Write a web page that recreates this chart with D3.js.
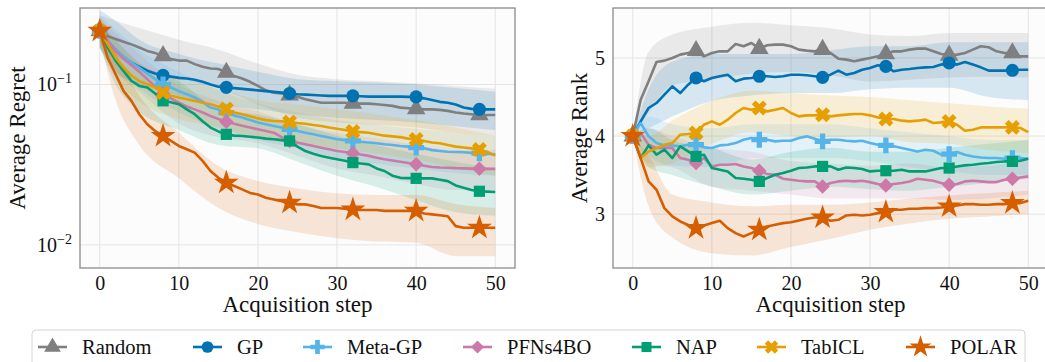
<!DOCTYPE html>
<html>
<head>
<meta charset="utf-8">
<script src="https://cdn.jsdelivr.net/npm/d3@7"></script>
<style>
  body { margin: 0; background: #fff; }
  svg, svg text { font-family: 'Liberation Serif', Tinos, 'Times New Roman', Times, 'DejaVu Serif', serif; fill: #111; }
</style>
</head>
<body>
<svg id="chart" width="1045" height="362"></svg>
<script>
// Methods and styling keys
const methods = ['Random', 'GP', 'Meta-GP', 'PFNs4BO', 'NAP', 'TabICL', 'POLAR'];
const colors = ['#7f7f7f', '#0072b2', '#56b4e9', '#cc79a7', '#009e73', '#e69f00', '#d55e00'];
const markers = ['triangle', 'circle', 'plus', 'diamond', 'square', 'cross', 'star'];
const markerSteps = [0, 8, 16, 24, 32, 40, 48];
const bandSteps = [0, 2, 5, 10, 15, 20, 25, 30, 35, 40, 45, 50];
const xTicks = [0, 10, 20, 30, 40, 50];
const regretTicks = [0.01, 0.1];
const rankTicks = [3, 4, 5];

// Average regret (steps 0..50)
const regretRandom = [
  .216, .200, .192, .185, .178, .170, .162, .157, .151, .144,
  .141, .141, .134, .129, .126, .125, .119, .113, .109, .104,
  .098, .092, .089, .088, .086, .084, .081, .079, .077, .077,
  .077, .077, .0762, .076, .076, .0753, .0746, .0736, .0718, .0711,
  .0705, .070, .070, .0695, .0685, .0669, .0659, .0653, .0646, .0646, .0646];
const regretGP = [
  .216, .185, .163, .148, .137, .129, .122, .117, .114, .112,
  .110, .109, .107, .104, .100, .097, .096, .095, .094, .093,
  .092, .091, .090, .089, .088, .087, .0865, .086, .0855, .085,
  .085, .085, .085, .0845, .084, .084, .084, .084, .084, .0838,
  .0837, .082, .080, .078, .077, .075, .072, .0705, .070, .070, .070];
const regretMetaGP = [
  .216, .188, .166, .150, .137, .127, .117, .108, .100, .096,
  .091, .087, .083, .078, .0718, .070, .0669, .064, .0622, .060,
  .0579, .0565, .0552, .054, .0526, .0513, .0501, .049, .0478, .0467,
  .0456, .045, .0445, .044, .0435, .043, .0424, .042, .0414, .041,
  .0404, .040, .039, .0385, .0381, .038, .0378, .0375, .0373, .037, .0367];
const regretPFNs = [
  .216, .188, .162, .145, .132, .120, .108, .097, .088, .082,
  .077, .073, .070, .067, .0637, .061, .0587, .057, .0553, .054,
  .0526, .0513, .0501, .047, .0445, .0434, .0424, .0414, .0404, .0395,
  .0385, .038, .0373, .0366, .0359, .035, .0342, .0336, .033, .0324,
  .0318, .0312, .0306, .0304, .0303, .0301, .030, .0299, .0298, .0298, .0298];
const regretNAP = [
  .216, .170, .141, .1217, .1054, .098, .0958, .088, .0791, .0775,
  .0754, .070, .0653, .059, .0539, .051, .0489, .048, .0478, .0472,
  .0467, .046, .0456, .045, .0445, .041, .0385, .037, .0358, .035,
  .0342, .0335, .0326, .0322, .0318, .030, .0289, .027, .0262, .0261,
  .026, .026, .026, .0255, .025, .0235, .0227, .022, .0216, .0215, .0214];
const regretTabICL = [
  .216, .179, .147, .1277, .1138, .105, .1005, .096, .0891, .085,
  .0829, .081, .0791, .077, .0754, .073, .0703, .067, .0653, .0635,
  .0615, .060, .0593, .059, .0583, .0575, .057, .056, .0552, .054,
  .053, .052, .051, .0505, .050, .049, .048, .0475, .047, .046,
  .0455, .0445, .0435, .043, .042, .041, .0405, .040, .0394, .038, .036];
const regretPOLAR = [
  .216, .147, .116, .0913, .0791, .0653, .0565, .0513, .0478, .0445,
  .0414, .0395, .0376, .0334, .0289, .0262, .0244, .0233, .0222, .0211,
  .0206, .0197, .0192, .01875, .0183, .0179, .0179, .0175, .0170, .0170,
  .0170, .0168, .0166, .0165, .0165, .0165, .0163, .0163, .0163, .0163,
  .0163, .0157, .0155, .0153, .0151, .0131, .0128, .0128, .0128, .0128, .0128];

// Regret bands at bandSteps
const regretLoRandom = [.18, .15, .13, .108, .095, .075, .062, .058, .056, .054, .05, .048];
const regretHiRandom = [.27, .25, .225, .19, .165, .135, .115, .108, .105, .102, .098, .094];
const regretLoGP = [.17, .12, .10, .085, .075, .07, .065, .062, .06, .058, .055, .052];
const regretHiGP = [.29, .25, .19, .155, .135, .12, .108, .105, .103, .10, .095, .09];
const regretLoMetaGP = [.17, .125, .094, .067, .053, .045, .040, .035, .032, .030, .028, .027];
const regretHiMetaGP = [.27, .22, .165, .12, .092, .076, .067, .06, .056, .053, .05, .048];
const regretLoPFNs = [.17, .12, .09, .057, .047, .043, .036, .030, .027, .024, .022, .022];
const regretHiPFNs = [.26, .21, .155, .10, .079, .068, .056, .05, .046, .042, .039, .039];
const regretLoNAP = [.17, .10, .068, .052, .042, .040, .033, .027, .023, .019, .016, .0152];
const regretHiNAP = [.24, .19, .135, .105, .071, .065, .057, .048, .042, .037, .033, .030];
const regretLoTabICL = [.17, .11, .078, .061, .054, .046, .043, .04, .037, .034, .030, .027];
const regretHiTabICL = [.26, .19, .137, .108, .095, .08, .075, .07, .065, .06, .054, .048];
const regretLoPOLAR = [.19, .08, .042, .026, .017, .0135, .012, .011, .0105, .0103, .0085, .0085];
const regretHiPOLAR = [.24, .16, .085, .05, .031, .025, .0225, .021, .0205, .0205, .018, .017];

// Average rank (steps 0..50)
const rankRandom = [
  4.0, 4.466, 4.701, 4.949, 4.966, 5.0, 5.043, 5.064, 5.094, 5.021,
  5.064, 5.085, 5.085, 5.179, 5.15, 5.192, 5.12, 5.162, 5.171, 5.171,
  5.15, 5.107, 5.094, 5.085, 5.107, 5.064, 4.991, 4.979, 4.957, 4.979,
  5.0, 5.021, 5.051, 5.085, 5.085, 5.107, 5.12, 5.12, 5.085, 5.051,
  5.034, 5.043, 5.064, 5.107, 5.15, 5.137, 5.085, 5.064, 5.064, 5.021, 5.021];
const rankGP = [
  4.0, 4.188, 4.359, 4.423, 4.53, 4.637, 4.551, 4.658, 4.744, 4.701,
  4.744, 4.765, 4.786, 4.701, 4.735, 4.744, 4.765, 4.765, 4.756, 4.765,
  4.786, 4.786, 4.778, 4.765, 4.752, 4.786, 4.838, 4.786, 4.808, 4.850,
  4.872, 4.906, 4.893, 4.829, 4.850, 4.859, 4.872, 4.88, 4.885, 4.915,
  4.936, 4.915, 4.949, 4.915, 4.88, 4.838, 4.838, 4.838, 4.842, 4.850, 4.850];
const rankMetaGP = [
  4.0, 4.167, 3.996, 3.91, 3.88, 3.88, 3.868, 3.889, 3.889, 3.855,
  3.846, 3.88, 3.889, 3.91, 3.953, 3.974, 3.953, 3.953, 3.932, 3.94,
  3.94, 3.974, 3.996, 3.966, 3.932, 3.953, 3.953, 3.94, 3.932, 3.94,
  3.91, 3.889, 3.88, 3.868, 3.846, 3.825, 3.803, 3.825, 3.812, 3.761,
  3.769, 3.795, 3.761, 3.739, 3.726, 3.718, 3.718, 3.709, 3.718, 3.718, 3.709];
const rankPFNs = [
  4.0, 4.038, 3.889, 3.846, 3.846, 3.846, 3.718, 3.697, 3.654, 3.718,
  3.611, 3.632, 3.632, 3.641, 3.611, 3.590, 3.556, 3.513, 3.504, 3.453,
  3.440, 3.427, 3.419, 3.419, 3.355, 3.398, 3.419, 3.427, 3.419, 3.427,
  3.41, 3.385, 3.368, 3.385, 3.398, 3.419, 3.453, 3.440, 3.427, 3.398,
  3.376, 3.385, 3.419, 3.427, 3.419, 3.41, 3.41, 3.440, 3.453, 3.47, 3.483];
const rankNAP = [
  4.0, 3.718, 3.880, 3.761, 3.825, 3.718, 3.868, 3.803, 3.739, 3.761,
  3.590, 3.568, 3.547, 3.462, 3.453, 3.440, 3.419, 3.462, 3.504, 3.526,
  3.556, 3.590, 3.598, 3.611, 3.611, 3.611, 3.568, 3.598, 3.590, 3.577,
  3.547, 3.556, 3.556, 3.556, 3.568, 3.547, 3.547, 3.547, 3.568, 3.590,
  3.590, 3.611, 3.624, 3.632, 3.645, 3.654, 3.667, 3.675, 3.675, 3.684, 3.709];
const rankTabICL = [
  4.0, 3.718, 3.803, 3.846, 3.889, 3.91, 4.017, 4.026, 4.038, 4.145,
  4.188, 4.145, 4.21, 4.295, 4.359, 4.338, 4.359, 4.316, 4.338, 4.359,
  4.295, 4.252, 4.265, 4.265, 4.274, 4.252, 4.265, 4.274, 4.282, 4.282,
  4.265, 4.239, 4.218, 4.218, 4.197, 4.188, 4.197, 4.21, 4.167, 4.175,
  4.188, 4.145, 4.068, 4.081, 4.111, 4.111, 4.111, 4.111, 4.111, 4.103, 4.051];
const rankPOLAR = [
  4.0, 3.718, 3.419, 3.312, 3.077, 2.97, 2.906, 2.863, 2.821, 2.855,
  2.885, 2.915, 2.821, 2.757, 2.714, 2.757, 2.799, 2.842, 2.863, 2.885,
  2.897, 2.919, 2.94, 2.957, 2.957, 2.915, 2.927, 2.983, 2.991, 2.983,
  2.991, 3.013, 3.026, 3.056, 3.056, 3.068, 3.068, 3.077, 3.077, 3.085,
  3.098, 3.111, 3.128, 3.128, 3.12, 3.12, 3.128, 3.128, 3.141, 3.141, 3.171];

// Rank bands at bandSteps
const rankLoRandom = [4.0, 4.3, 4.65, 4.72, 4.8, 4.82, 4.78, 4.7, 4.72, 4.75, 4.76, 4.75];
const rankHiRandom = [4.0, 5.08, 5.3, 5.4, 5.45, 5.42, 5.38, 5.3, 5.28, 5.32, 5.32, 5.32];
const rankLoGP = [4.0, 4.1, 4.25, 4.45, 4.52, 4.55, 4.55, 4.6, 4.62, 4.62, 4.5, 4.46];
const rankHiGP = [4.0, 4.6, 4.95, 5.05, 5.05, 5.05, 5.1, 5.15, 5.15, 5.2, 5.2, 5.2];
const rankLoMetaGP = [4.0, 3.75, 3.62, 3.6, 3.72, 3.72, 3.72, 3.68, 3.6, 3.55, 3.5, 3.5];
const rankHiMetaGP = [4.0, 4.25, 4.15, 4.1, 4.15, 4.15, 4.15, 4.1, 4.05, 4.0, 3.95, 3.95];
const rankLoPFNs = [4.0, 3.65, 3.6, 3.35, 3.3, 3.25, 3.2, 3.2, 3.2, 3.18, 3.2, 3.25];
const rankHiPFNs = [4.0, 4.1, 4.0, 3.85, 3.8, 3.68, 3.65, 3.62, 3.65, 3.6, 3.62, 3.7];
const rankLoNAP = [4.0, 3.6, 3.5, 3.35, 3.25, 3.3, 3.35, 3.32, 3.3, 3.35, 3.4, 3.45];
const rankHiNAP = [4.0, 4.1, 3.95, 3.85, 3.7, 3.8, 3.85, 3.8, 3.8, 3.85, 3.9, 3.95];
const rankLoTabICL = [4.0, 3.6, 3.65, 3.9, 4.05, 4.0, 3.98, 4.0, 3.92, 3.9, 3.82, 3.78];
const rankHiTabICL = [4.0, 4.0, 4.2, 4.45, 4.58, 4.55, 4.52, 4.5, 4.46, 4.42, 4.38, 4.35];
const rankLoPOLAR = [4.0, 3.1, 2.7, 2.5, 2.47, 2.58, 2.68, 2.8, 2.88, 2.94, 2.97, 3.0];
const rankHiPOLAR = [4.0, 3.75, 3.25, 3.15, 3.1, 3.12, 3.12, 3.15, 3.2, 3.24, 3.27, 3.3];

const regretMeans = [regretRandom, regretGP, regretMetaGP, regretPFNs, regretNAP, regretTabICL, regretPOLAR];
const regretLo = [regretLoRandom, regretLoGP, regretLoMetaGP, regretLoPFNs, regretLoNAP, regretLoTabICL, regretLoPOLAR];
const regretHi = [regretHiRandom, regretHiGP, regretHiMetaGP, regretHiPFNs, regretHiNAP, regretHiTabICL, regretHiPOLAR];
const rankMeans = [rankRandom, rankGP, rankMetaGP, rankPFNs, rankNAP, rankTabICL, rankPOLAR];
const rankLo = [rankLoRandom, rankLoGP, rankLoMetaGP, rankLoPFNs, rankLoNAP, rankLoTabICL, rankLoPOLAR];
const rankHi = [rankHiRandom, rankHiGP, rankHiMetaGP, rankHiPFNs, rankHiNAP, rankHiTabICL, rankHiPOLAR];

const FONT = "'Liberation Serif', Tinos, 'Times New Roman', Times, 'DejaVu Serif', serif";
const svg = d3.select('#chart').attr('font-family', FONT);
const plotTop = 8, plotBottom = 268;

// Marker shapes
const symbolFor = {
  triangle: { type: d3.symbolTriangle, size: 150, rot: 0 },
  circle: { type: d3.symbolCircle, size: 135, rot: 0 },
  plus: { type: d3.symbolCross, size: 140, rot: 0 },
  diamond: { type: d3.symbolSquare, size: 105, rot: 45 },
  square: { type: d3.symbolSquare, size: 125, rot: 0 },
  cross: { type: d3.symbolCross, size: 140, rot: 45 },
  star: { type: d3.symbolStar, size: 190, rot: 0 }
};
const drawMarker = (g, kind, cx, cy, color, scale = 1) => {
  const s = symbolFor[kind];
  g.append('path')
    .attr('d', d3.symbol().type(s.type).size(s.size * scale)())
    .attr('transform', `translate(${cx},${cy}) rotate(${s.rot})`)
    .attr('fill', color);
};

function drawPanel(opt) {
  const g = svg.append('g');
  const x = d3.scaleLinear().domain([-2.5, 52.5]).range([opt.left, opt.right]);
  const y = opt.y;
  const steps = d3.range(51);

  g.append('rect')
    .attr('x', opt.left).attr('y', plotTop)
    .attr('width', opt.right - opt.left).attr('height', plotBottom - plotTop)
    .attr('fill', '#fcfcfc');

  // Grid
  g.selectAll('.gx').data(xTicks).enter().append('line')
    .attr('x1', d => x(d)).attr('x2', d => x(d))
    .attr('y1', plotTop).attr('y2', plotBottom)
    .attr('stroke', '#e4e4e4').attr('stroke-width', 1);
  g.selectAll('.gy').data(opt.yTicks).enter().append('line')
    .attr('x1', opt.left).attr('x2', opt.right)
    .attr('y1', d => y(d)).attr('y2', d => y(d))
    .attr('stroke', '#e4e4e4').attr('stroke-width', 1);

  const clipId = 'clip-' + opt.name;
  g.append('clipPath').attr('id', clipId).append('rect')
    .attr('x', opt.left).attr('y', plotTop)
    .attr('width', opt.right - opt.left).attr('height', plotBottom - plotTop);
  const inner = g.append('g').attr('clip-path', `url(#${clipId})`);

  // Bands
  const area = d3.area()
    .x(d => x(d.s)).y0(d => y(d.lo)).y1(d => y(d.hi))
    .curve(d3.curveMonotoneX);
  methods.forEach((m, i) => {
    const pts = bandSteps.map((s, k) => ({ s, lo: opt.lo[i][k], hi: opt.hi[i][k] }));
    inner.append('path').datum(pts)
      .attr('d', area)
      .attr('fill', colors[i]).attr('fill-opacity', 0.15);
  });

  // Lines + markers
  const line = d3.line().x(d => x(d.s)).y(d => y(d.v));
  methods.forEach((m, i) => {
    const pts = steps.map(s => ({ s, v: opt.means[i][s] }));
    inner.append('path').datum(pts)
      .attr('d', line)
      .attr('fill', 'none').attr('stroke', colors[i])
      .attr('stroke-width', 2.6).attr('stroke-linejoin', 'round');
    markerSteps.forEach(s => drawMarker(inner, markers[i], x(s), y(opt.means[i][s]), colors[i]));
  });

  // Frame
  g.append('rect')
    .attr('x', opt.left).attr('y', plotTop)
    .attr('width', opt.right - opt.left).attr('height', plotBottom - plotTop)
    .attr('fill', 'none').attr('stroke', '#8a8a8a').attr('stroke-width', 1.3);

  // Axes
  const xAxis = g.append('g')
    .attr('transform', `translate(0,${plotBottom})`)
    .call(d3.axisBottom(x).tickValues(xTicks).tickSize(0).tickPadding(8).tickFormat(d3.format('d')));
  xAxis.attr('font-family', FONT).attr('font-size', 20);
  xAxis.select('.domain').remove();
  xAxis.selectAll('text').attr('fill', '#222');

  const yAxis = g.append('g')
    .attr('transform', `translate(${opt.left},0)`)
    .call(d3.axisLeft(y).tickValues(opt.yTicks).tickSize(0).tickPadding(opt.yPad).tickFormat(opt.yFormat));
  yAxis.attr('font-family', FONT).attr('font-size', 20);
  yAxis.select('.domain').remove();
  yAxis.selectAll('text').attr('fill', '#222');
  if (opt.log) {
    yAxis.selectAll('text').each(function (d) {
      const t = d3.select(this).text('');
      t.append('tspan').text('10');
      t.append('tspan').attr('font-size', 14).attr('dy', -8).text('\u2212' + Math.round(-Math.log10(d)));
    });
  }

  // Axis labels
  g.append('text')
    .attr('x', (opt.left + opt.right) / 2).attr('y', 312)
    .attr('text-anchor', 'middle').attr('font-size', 23)
    .text('Acquisition step');
  g.append('text')
    .attr('transform', `translate(${opt.labelX},${(plotTop + plotBottom) / 2}) rotate(-90)`)
    .attr('text-anchor', 'middle').attr('font-size', 23)
    .text(opt.yLabel);
}

drawPanel({
  name: 'regret', left: 80, right: 515,
  y: d3.scaleLog().domain([0.00718, 0.30]).range([plotBottom, plotTop]),
  yTicks: regretTicks, yFormat: d => d, yPad: 8, log: true,
  means: regretMeans, lo: regretLo, hi: regretHi,
  yLabel: 'Average Regret', labelX: 25
});
drawPanel({
  name: 'rank', left: 613, right: 1048,
  y: d3.scaleLinear().domain([2.31, 5.64]).range([plotBottom, plotTop]),
  yTicks: rankTicks, yFormat: d3.format('d'), yPad: 8, log: false,
  means: rankMeans, lo: rankLo, hi: rankHi,
  yLabel: 'Average Rank', labelX: 587
});

// Legend
const legendX = [38, 193, 303, 463, 632, 757, 906];
const legend = svg.append('g');
legend.append('rect')
  .attr('x', 32).attr('y', 330).attr('width', 993).attr('height', 44)
  .attr('rx', 4).attr('fill', '#fff').attr('stroke', '#d4d4d4').attr('stroke-width', 1);
methods.forEach((m, i) => {
  const lx = legendX[i], ly = 347;
  legend.append('line')
    .attr('x1', lx).attr('x2', lx + 29).attr('y1', ly).attr('y2', ly)
    .attr('stroke', colors[i]).attr('stroke-width', 2.6);
  drawMarker(legend, markers[i], lx + 14.5, ly, colors[i], 0.8);
  legend.append('text')
    .attr('x', lx + 44).attr('y', ly + 7)
    .attr('font-size', 20.5)
    .text(m);
});
</script>
</body>
</html>
